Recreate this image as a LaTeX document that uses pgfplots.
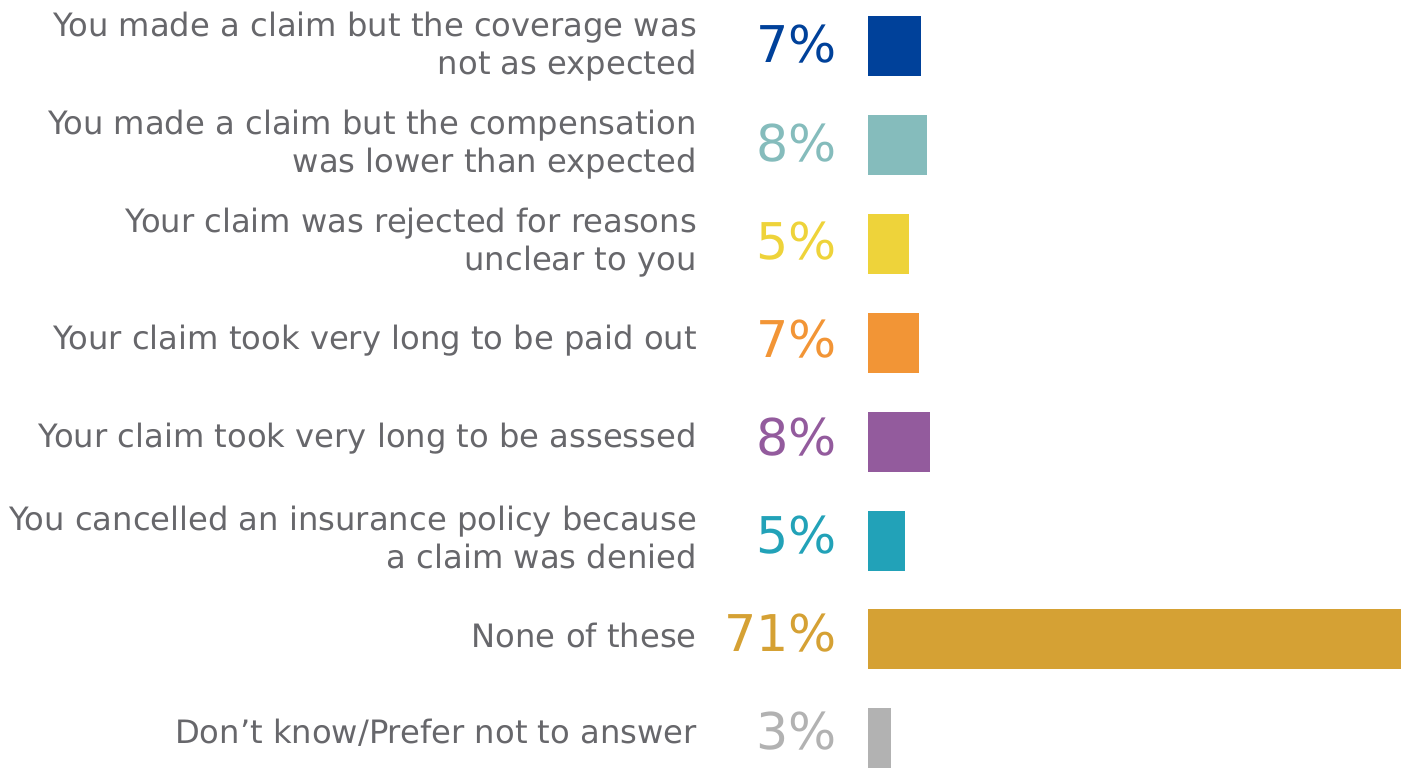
\documentclass[border=0pt]{standalone}
\usepackage{pgfplots}
\pgfplotsset{compat=1.18}
\usepackage{fontspec}
\setmainfont{DejaVu Sans}
\definecolor{c1}{HTML}{00419A}
\definecolor{c2}{HTML}{85BCBC}
\definecolor{c3}{HTML}{EED33A}
\definecolor{c4}{HTML}{F29536}
\definecolor{c5}{HTML}{935B9D}
\definecolor{c6}{HTML}{22A2B8}
\definecolor{c7}{HTML}{D5A134}
\definecolor{c8}{HTML}{B2B2B2}
\definecolor{lblgray}{HTML}{67676B}
\pgfplotsset{
  mybar/.style={fill=#1, draw=none,
    every node near coord/.append style={text=#1}},
}
\begin{document}
\begin{tikzpicture}
\begin{axis}[
  scale only axis,
  width=399.75pt, height=576pt,
  xbar, bar width=45pt, bar shift=0pt,
  xmin=0, xmax=71, enlarge x limits=false,
  ymin=0.535, ymax=8.30, y dir=reverse,
  axis line style={draw=none},
  major tick length=0pt,
  xtick=\empty,
  ytick={1,...,8},
  yticklabels={
    {You made a claim but the coverage was\\not as expected},
    {You made a claim but the compensation\\was lower than expected},
    {Your claim was rejected for reasons\\unclear to you},
    {Your claim took very long to be paid out},
    {Your claim took very long to be assessed},
    {You cancelled an insurance policy because\\a claim was denied},
    {None of these},
    {Don’t know/Prefer not to answer}},
  yticklabel style={align=right, text=lblgray, inner sep=0pt,
    font=\fontsize{24.15}{28.5}\selectfont, xshift=-128.25pt,
    yshift={(-1+\ticknum*0.9)*0.75pt}},
  clip=false,
  visualization depends on={rawx \as \rx},
  visualization depends on={rawy \as \ry},
  nodes near coords={\pgfmathprintnumber[fixed, precision=0, assume math mode=true]{\pgfplotspointmeta}\%},
  every node near coord/.append style={anchor=east, inner sep=0pt,
    font=\fontsize{38}{40}\selectfont,
    xshift={-\rx*5.63028pt-23.25pt},
    yshift={(1.5+(\ry-1)*0.8)*0.75pt}},
]
\addplot[mybar=c1] coordinates {(7.07,1)};
\addplot[mybar=c2] coordinates {(7.87,2)};
\addplot[mybar=c3] coordinates {(5.47,3)};
\addplot[mybar=c4] coordinates {(6.8,4)};
\addplot[mybar=c5] coordinates {(8.27,5)};
\addplot[mybar=c6] coordinates {(4.93,6)};
\addplot[mybar=c7] coordinates {(71,7)};
\addplot[mybar=c8] coordinates {(3.07,8)};
\end{axis}
\pgfresetboundingbox
\path[use as bounding box] ([xshift=-1050.75pt]current axis.south east) rectangle (current axis.north east);
\end{tikzpicture}
\end{document}
